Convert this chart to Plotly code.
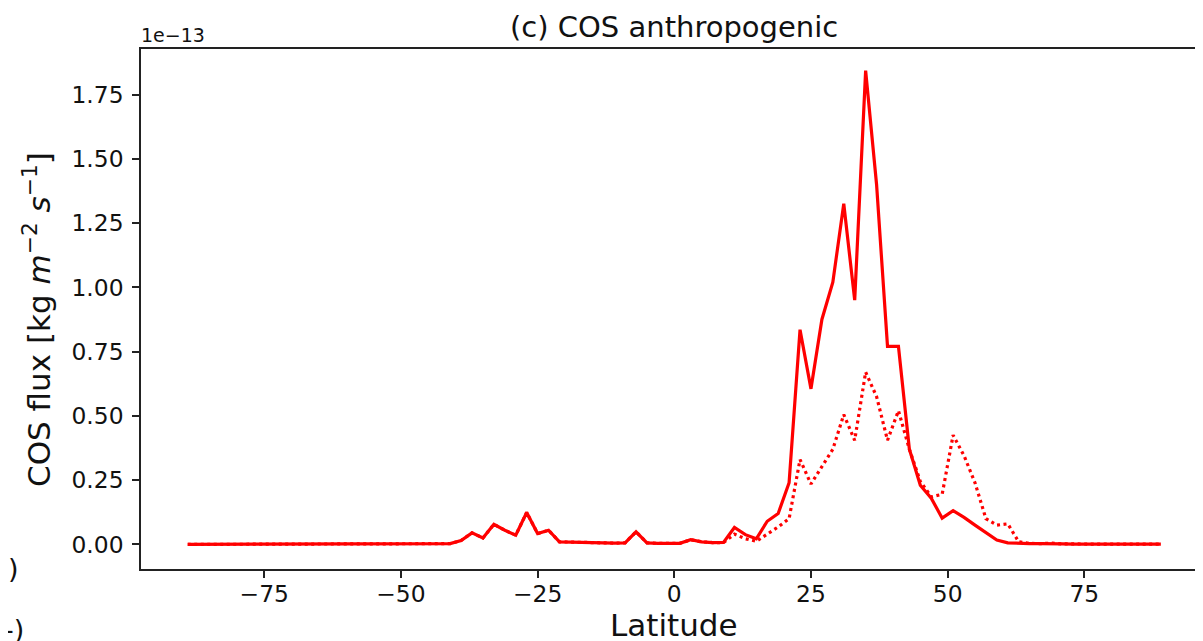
import plotly.graph_objects as go

# Latitude grid (2-degree cell centres)
latitude = list(range(-89, 90, 2))

# COS anthropogenic flux, units of 1e-13 kg m-2 s-1
flux_solid = [
    0.0, 0.0, 0.0, 0.0, 0.0, 0.0, 0.0, 0.0, 0.0, 0.0,          # -89 .. -71
    0.0, 0.0, 0.0, 0.0, 0.0, 0.0, 0.0, 0.0, 0.0, 0.0,          # -69 .. -51
    0.0, 0.001, 0.001,                                          # -49 .. -45
    0.002, 0.003, 0.015, 0.045, 0.025, 0.078, 0.055, 0.036,     # -43 .. -29
    0.124, 0.042, 0.055, 0.010, 0.009, 0.007, 0.006, 0.006,     # -27 .. -13
    0.005, 0.006, 0.049, 0.006, 0.004, 0.003,                   # -11 .. -1
    0.004, 0.018, 0.010, 0.007, 0.008, 0.066, 0.038, 0.022,     # 1 .. 15
    0.090, 0.120, 0.240, 0.835, 0.605, 0.875, 1.020, 1.325,     # 17 .. 31
    0.950, 1.843, 1.400, 0.770, 0.770, 0.370, 0.230, 0.180,     # 33 .. 47
    0.102, 0.131, 0.105, 0.075, 0.045, 0.017, 0.006, 0.003,     # 49 .. 63
    0.003, 0.003, 0.004, 0.002, 0.001, 0.001, 0.001, 0.001,     # 65 .. 79
    0.001, 0.001, 0.001, 0.001, 0.001,                          # 81 .. 89
]

flux_dotted = [
    0.0, 0.0, 0.0, 0.0, 0.0, 0.0, 0.0, 0.0, 0.0, 0.0,          # -89 .. -71
    0.0, 0.0, 0.0, 0.0, 0.0, 0.0, 0.0, 0.0, 0.0, 0.0,          # -69 .. -51
    0.0, 0.001, 0.001,                                          # -49 .. -45
    0.002, 0.003, 0.015, 0.045, 0.025, 0.078, 0.055, 0.036,     # -43 .. -29
    0.124, 0.042, 0.055, 0.010, 0.009, 0.007, 0.006, 0.006,     # -27 .. -13
    0.005, 0.006, 0.049, 0.006, 0.004, 0.003,                   # -11 .. -1
    0.004, 0.018, 0.010, 0.007, 0.007, 0.040, 0.022, 0.012,     # 1 .. 15
    0.040, 0.068, 0.100, 0.330, 0.235, 0.300, 0.370, 0.505,     # 17 .. 31
    0.405, 0.670, 0.575, 0.405, 0.520, 0.370, 0.245, 0.185,     # 33 .. 47
    0.195, 0.425, 0.345, 0.240, 0.100, 0.075, 0.080, 0.010,     # 49 .. 63
    0.004, 0.003, 0.005, 0.002, 0.001, 0.001, 0.001, 0.001,     # 65 .. 79
    0.001, 0.001, 0.001, 0.001, 0.001,                          # 81 .. 89
]

x_tickvals = [-75, -50, -25, 0, 25, 50, 75]
x_ticktext = ["\u221275", "\u221250", "\u221225", "0", "25", "50", "75"]
y_tickvals = [0.0, 0.25, 0.5, 0.75, 1.0, 1.25, 1.5, 1.75]
y_ticktext = ["0.00", "0.25", "0.50", "0.75", "1.00", "1.25", "1.50", "1.75"]

FONT = "DejaVu Sans"
OFF = 8                      # page body margin of the html page
WIN_W, WIN_H = 1203, 641
W, H = WIN_W - OFF, WIN_H - OFF
# plot area in window pixels: left 141, top 49, bottom 569, right = window edge
L = 141 - OFF
T = 49 - OFF
B = H - (569 - OFF)
R = 0
pw = W - L - R
ph = H - T - B

fig = go.Figure()
fig.add_trace(go.Scatter(x=latitude, y=flux_solid, mode="lines",
                         line=dict(color="red", width=3.2), showlegend=False))
fig.add_trace(go.Scatter(x=latitude, y=flux_dotted, mode="lines",
                         line=dict(color="red", width=3.2, dash="3px,3.5px"),
                         showlegend=False))

axis_common = dict(showgrid=False, zeroline=False, showline=True,
                   linecolor="#222", linewidth=1.5, ticks="outside",
                   ticklen=7, tickwidth=1.5, tickcolor="#222",
                   tickfont=dict(family=FONT, size=23.4, color="#111"))

fig.update_xaxes(range=[-97.55, 96.71], tickvals=x_tickvals, ticktext=x_ticktext,
                 mirror=True, ticklabelstandoff=-4, **axis_common)
fig.update_yaxes(range=[-0.0957, 1.927], tickvals=y_tickvals, ticktext=y_ticktext,
                 mirror=False, ticklabelstandoff=4, **axis_common)


def py(win_y):
    """window pixel y -> paper y"""
    return (H - B - (win_y - OFF)) / ph


def pxp(win_x):
    """window pixel x -> paper x"""
    return ((win_x - OFF) - L) / pw


ann = [
    dict(text="(c) COS anthropogenic", x=0, xref="x", y=py(27), yref="paper",
         xanchor="center", yanchor="middle", showarrow=False,
         font=dict(family=FONT, size=29, color="#111")),
    dict(text="1e\u221213", x=pxp(139), xref="paper", y=py(35), yref="paper",
         xanchor="left", yanchor="middle", showarrow=False,
         font=dict(family=FONT, size=19, color="#111")),
    dict(text="Latitude", x=0, xref="x", y=py(625), yref="paper",
         xanchor="center", yanchor="middle", showarrow=False,
         font=dict(family=FONT, size=31, color="#111")),
    dict(text="COS flux [kg <i>m</i><sup>\u22122</sup> <i>s</i><sup>\u22121</sup>]",
         x=pxp(37), xref="paper", y=py(320), yref="paper", textangle=-90,
         xanchor="center", yanchor="middle", showarrow=False,
         font=dict(family=FONT, size=31, color="#111")),
    dict(text=")", x=pxp(6), xref="paper", y=py(568), yref="paper",
         xanchor="left", yanchor="middle", showarrow=False,
         font=dict(family=FONT, size=27, color="#111")),
    dict(text="-)", x=pxp(2), xref="paper", y=py(629), yref="paper",
         xanchor="left", yanchor="middle", showarrow=False,
         font=dict(family=FONT, size=27, color="#111")),
]

fig.update_layout(width=W, height=H, margin=dict(l=L, r=R, t=T, b=B, pad=0),
                  plot_bgcolor="white", paper_bgcolor="white",
                  annotations=ann)

fig.write_html("out.html")
